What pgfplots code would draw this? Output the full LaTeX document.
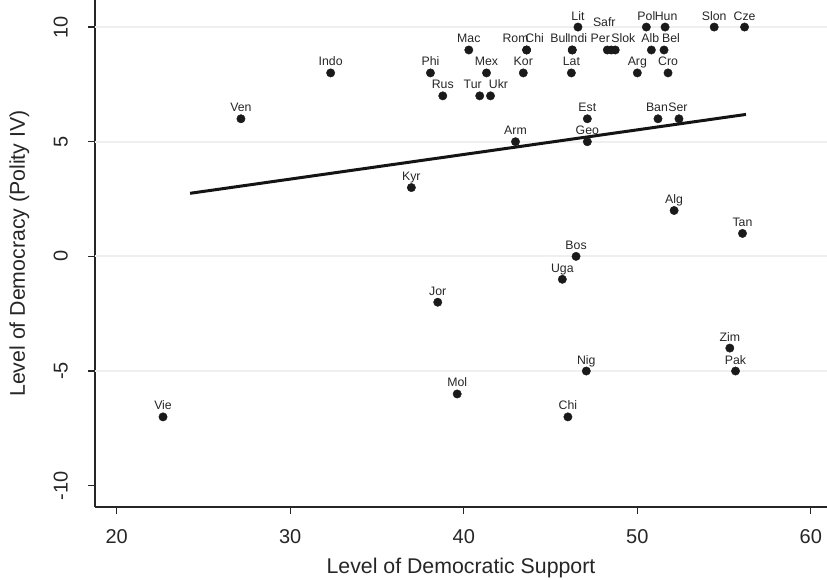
\documentclass[border=0pt]{standalone}
\usepackage{pgfplots}
\pgfplotsset{compat=1.18}
\usepackage{pgfplotstable}
\usepackage{fontspec}
\setmainfont{Liberation Sans}
\definecolor{dotc}{HTML}{1A1A1A}
\definecolor{txtc}{HTML}{262626}
\definecolor{gridc}{HTML}{EFEFEF}

\pgfplotstableread{
x y label dx dy
46.58 10 Lit 0 0
50.52 10 Pol 0 0
51.60 10 Hun 1 0
54.43 10 Slon 0 0
56.18 10 Cze 0 0
40.29 9 Mac 0 0
43.62 9 Rom -11 0
43.62 9 Chi 8 0
46.25 9 Bul -13 0
46.25 9 Indi 5 0
48.27 9 Per -7 0
48.50 9 Safr -7 16.6
48.73 9 Slok 8 0
50.81 9 Alb -1 0
51.54 9 Bel 7 0
32.33 8 Indo 0 0
38.08 8 Phi 0 0
41.31 8 Mex 0 0
43.43 8 Kor 0 0
46.20 8 Lat 0 0
50.00 8 Arg 0 0
51.77 8 Cro 0 0
38.79 7 Rus 0 0
40.92 7 Tur -7 0
41.54 7 Ukr 8 0
27.16 6 Ven 0 0
47.12 6 Est 0 0
51.19 6 Ban -1 0
52.40 6 Ser -1 0
42.98 5 Arm 0 0
47.12 5 Geo 0 0
36.98 3 Kyr 0 0
52.12 2 Alg 0 0
56.06 1 Tan 0 0
46.47 0 Bos 0 0
45.68 -1 Uga 0 0
38.50 -2 Jor 0 0
55.33 -4 Zim 0 0
55.66 -5 Pak 0 0
47.06 -5 Nig 0 0
39.62 -6 Mol 0 0
22.67 -7 Vie 0 0
46.00 -7 Chi 0 0
}\datatable

\begin{document}
\begin{tikzpicture}
\begin{axis}[
  name=ax, at={(0pt,0pt)}, anchor=south west,
  scale only axis, width=732pt, height=507pt,
  xmin=18.75, xmax=60.93, ymin=-10.93, ymax=11.18,
  clip=false,
  axis x line=bottom, axis y line=left,
  axis line style={-, draw=txtc, line width=1.2pt},
  xtick={20,30,...,60}, ytick={-10,-5,...,10},
  tick align=outside, major tick length=7pt,
  tick style={draw=txtc, line width=1.2pt},
  ticklabel style={font=\fontsize{20}{24}\selectfont, text=txtc, inner sep=0pt},
  /pgf/number format/assume math mode=true,
  xticklabel style={anchor=north, yshift=-15pt},
  yticklabel style={xshift=-20pt, rotate=90, anchor=south},
  xlabel={Level of Democratic Support},
  ylabel={Level of Democracy (Polity IV)},
  xlabel style={at={([yshift=-66pt]axis description cs:0.5,0)}, anchor=base, font=\fontsize{21.3}{25}\selectfont, text=txtc},
  ylabel style={at={([xshift=-70pt]axis description cs:0,0.5)}, anchor=base, font=\fontsize{21.3}{25}\selectfont, text=txtc},
]
\foreach \yy in {-5,0,5,10}{
  \edef\tmp{\noexpand\draw[gridc, line width=2pt] (axis cs:18.75,\yy) -- (axis cs:60.93,\yy);}\tmp
}
\addplot[draw=black!92, line width=3pt, no marks] coordinates {(24.23,2.75) (56.26,6.19)};
\addplot[only marks, mark=*, mark size=4.2pt, mark options={fill=dotc, draw=dotc},
  point meta=explicit symbolic,
  visualization depends on={\thisrow{dx} \as \labeldx},
  visualization depends on={\thisrow{dy} \as \labeldy},
  nodes near coords,
  every node near coord/.append style={anchor=base, inner sep=0pt,
     xshift=\labeldx pt, yshift=7pt+\labeldy pt,
     font=\fontsize{12.3}{15}\selectfont, text=txtc}]
  table[x=x, y=y, meta=label] {\datatable};
\end{axis}
\pgfresetboundingbox
\path[use as bounding box] ([shift={(-95pt,-72pt)}]ax.south west) rectangle ([shift={(732pt,507pt)}]ax.south west);
\end{tikzpicture}
\end{document}
